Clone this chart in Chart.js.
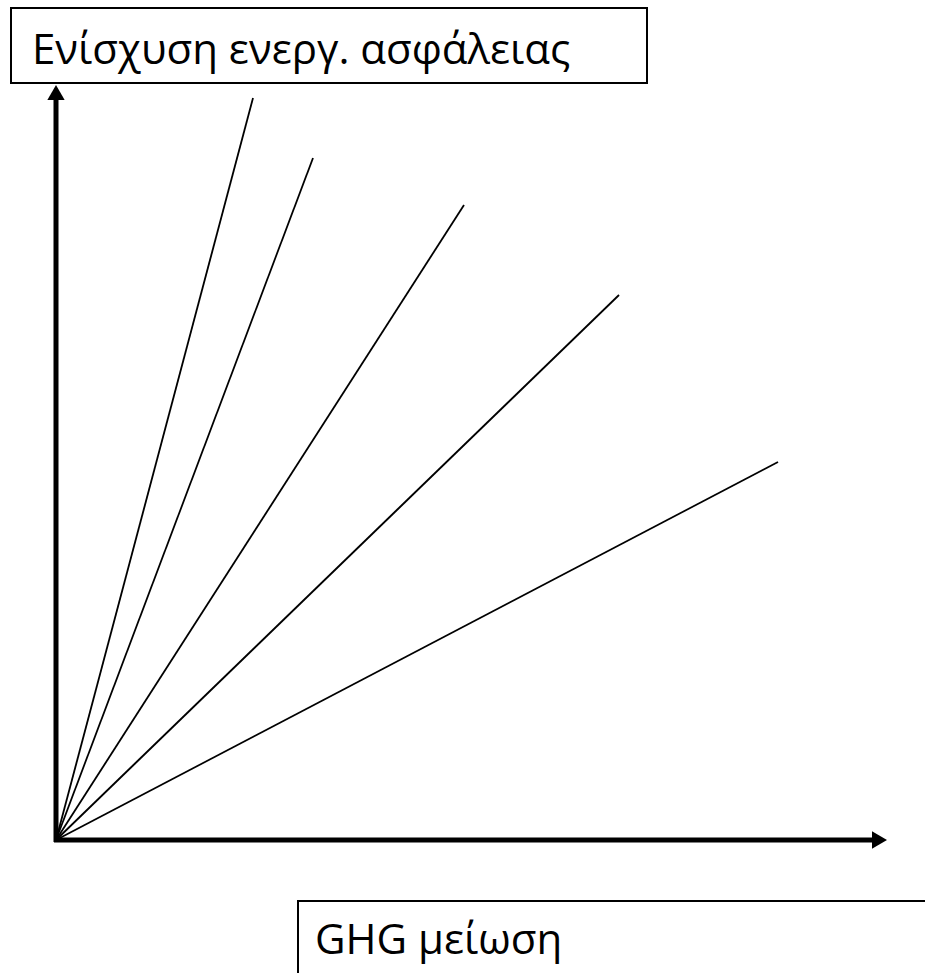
<!DOCTYPE html>
<html>
<head>
<meta charset="utf-8">
<script src="https://cdn.jsdelivr.net/npm/chart.js@4/dist/chart.umd.min.js"></script>
<style>
    body { margin: 0; background: #fff; }
    #wrap { position: relative; width: 925px; height: 973px; overflow: hidden; }
    #chart { position: absolute; left: 0; top: 0; }
    .box {
        position: absolute;
        border: 2px solid #000;
        background: #fff;
        font-family: 'Open Sans', sans-serif;
        font-size: 42px;
        line-height: 1;
        color: #000;
        box-sizing: border-box;
        white-space: nowrap;
    }
    #ylabel { left: 10px; top: 7px; width: 638px; height: 77px; padding: 18px 0 0 20px; }
    #xlabel { left: 297px; top: 900px; width: 660px; height: 100px; padding: 15px 0 0 16px; }
</style>
</head>
<body>
<div id="wrap">
    <canvas id="chart" width="925" height="973"></canvas>
    <div class="box" id="ylabel">Ενίσχυση ενεργ. ασφάλειας</div>
    <div class="box" id="xlabel">GHG μείωση</div>
</div>
<script>
// end points of the rays, all starting at the origin
var rayX = [197, 257, 408, 563, 722];
var rayY = [742, 682, 635, 545, 378];

// where the axis arrows end
var xAxisEnd = 831;
var yAxisEnd = 755;

var datasets = [];

for (var i = 0; i < rayX.length; i++) {
    datasets.push({
        data: [{ x: 0, y: 0 }, { x: rayX[i], y: rayY[i] }],
        borderColor: '#000',
        borderWidth: 1.8,
        pointRadius: 0,
        showLine: true
    });
}

// x axis + arrow head
datasets.push({
    data: [{ x: -2, y: 0 }, { x: xAxisEnd - 12, y: 0 }],
    borderColor: '#000',
    borderWidth: 5,
    pointRadius: 0,
    showLine: true
});
datasets.push({
    data: [{ x: xAxisEnd - 10, y: 0 }],
    pointStyle: 'triangle',
    pointRadius: 10,
    rotation: 90,
    backgroundColor: '#000',
    borderColor: '#000',
    borderWidth: 0
});

// y axis + arrow head
datasets.push({
    data: [{ x: 0, y: -2 }, { x: 0, y: yAxisEnd - 12 }],
    borderColor: '#000',
    borderWidth: 5,
    pointRadius: 0,
    showLine: true
});
datasets.push({
    data: [{ x: 0, y: yAxisEnd - 10 }],
    pointStyle: 'triangle',
    pointRadius: 10,
    rotation: 0,
    backgroundColor: '#000',
    borderColor: '#000',
    borderWidth: 0
});

var ctx = document.getElementById('chart');
var RaysChart = new Chart(ctx, {
    type: 'scatter',
    data: { datasets: datasets },
    options: {
        responsive: false,
        animation: false,
        layout: { padding: 0, autoPadding: false },
        plugins: {
            legend: false,
            tooltip: { enabled: false }
        },
        scales: {
            x: { type: 'linear', display: false, min: -56, max: 869 },
            y: { type: 'linear', display: false, min: -133, max: 840 }
        }
    }
});
</script>
</body>
</html>
